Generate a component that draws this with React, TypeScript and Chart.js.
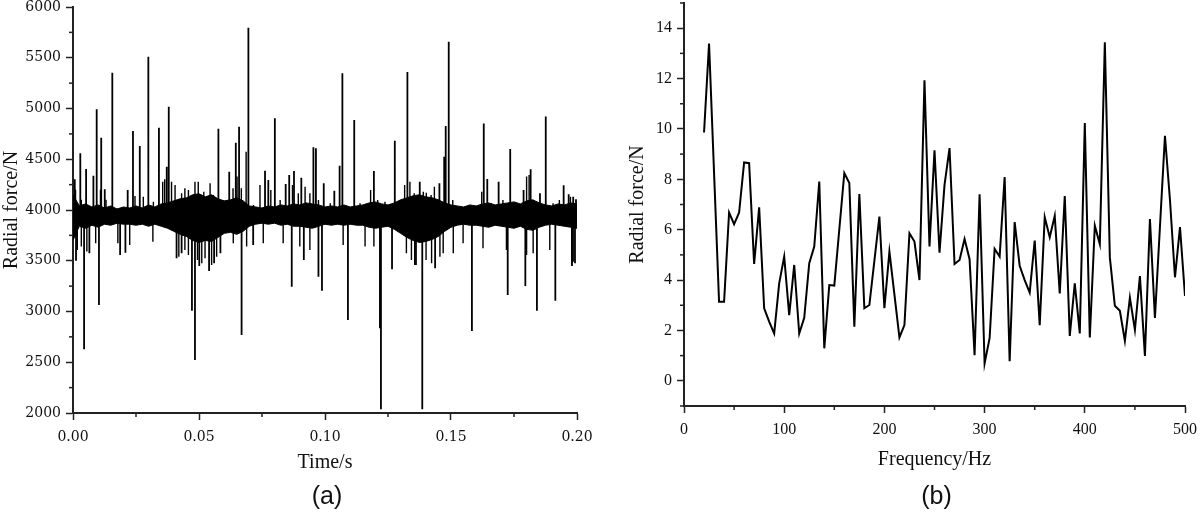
import React, { useEffect, useRef } from 'react';
import Chart from 'chart.js/auto';

// ---------------- Panel (a): time domain ----------------
const A_X_TICKS = [0, 0.05, 0.1, 0.15, 0.2];
const A_X_MINOR = [0.025, 0.075, 0.125, 0.175];
const A_Y_TICKS = [2000, 2500, 3000, 3500, 4000, 4500, 5000, 5500, 6000];
const A_Y_MINOR = [2250, 2750, 3250, 3750, 4250, 4750, 5250, 5750];

// envelope of the dense noise band (solid core)
const A_BAND_T = [0,0.0025,0.005,0.0075,0.01,0.0125,0.015,0.0175,0.02,0.0225,0.025,0.0275,0.03,0.0325,0.035,0.0375,0.04,0.0425,0.045,0.0475,0.05,0.0525,0.055,0.0575,0.06,0.0625,0.065,0.0675,0.07,0.0725,0.075,0.0775,0.08,0.0825,0.085,0.0875,0.09,0.0925,0.095,0.0975,0.1,0.1025,0.105,0.1075,0.11,0.1125,0.115,0.1175,0.12,0.1225,0.125,0.1275,0.13,0.1325,0.135,0.1375,0.14,0.1425,0.145,0.1475,0.15,0.1525,0.155,0.1575,0.16,0.1625,0.165,0.1675,0.17,0.1725,0.175,0.1775,0.18,0.1825,0.185,0.1875,0.19,0.1925,0.195,0.1975,0.2];
const A_BAND_HI = [4150,4040,4060,4030,4050,4020,4040,4010,4030,4020,
  4040,4020,4050,4030,4060,4070,4090,4110,4120,4150,
  4160,4130,4150,4110,4090,4100,4120,4090,4040,4030,
  4020,4040,4030,4050,4040,4060,4050,4070,4060,4050,
  4030,4040,4030,4050,4030,4040,4050,4070,4080,4060,
  4050,4070,4100,4120,4140,4150,4130,4120,4100,4070,
  4050,4040,4030,4050,4040,4060,4070,4050,4060,4070,
  4080,4060,4090,4100,4070,4050,4040,4060,4050,4070,
  4060];
const A_BAND_LO = [3700,3840,3820,3850,3830,3860,3850,3870,3860,3860,
  3850,3860,3840,3860,3840,3820,3790,3760,3740,3700,
  3680,3700,3690,3730,3770,3780,3760,3790,3840,3860,
  3870,3860,3870,3850,3860,3840,3840,3830,3820,3840,
  3860,3850,3860,3850,3860,3850,3850,3830,3820,3830,
  3840,3810,3770,3730,3700,3680,3690,3710,3740,3790,
  3830,3850,3860,3850,3850,3840,3830,3850,3840,3830,
  3820,3840,3810,3800,3830,3850,3860,3850,3840,3830,
  3820];

const A_BASE = 3950;
// large upward spikes
const A_UP_T = [0.0007,0.0029,0.0052,0.0081,0.0094,0.0112,0.0126,0.0156,0.0217,0.0238,0.0265,0.0299,0.0341,0.0372,0.0380,0.0577,0.0620,0.0646,0.0659,0.0696,0.0762,0.0775,0.0801,0.0844,0.0858,0.0877,0.0906,0.0954,0.0964,0.0995,0.1037,0.1058,0.1069,0.1116,0.1194,0.1277,0.1327,0.1376,0.1454,0.1473,0.1479,0.1491,0.1630,0.1644,0.1689,0.1735,0.1788,0.1816,0.1853,0.1876,0.1947,0.1967,0.1985,0.1996];
const A_UP_V = [4302,4559,4404,4338,4992,4712,4204,5353,4197,4778,4631,5510,4811,4427,5018,4801,4378,4663,4821,5796,4387,4296,4903,4256,4345,4384,4318,4618,4608,4263,4190,4436,5347,4887,4384,4683,5360,4279,4263,4525,4828,5658,4851,4306,4279,4601,4197,4401,4165,4920,4243,4155,4131,4105];
// large downward spikes
const A_DOWN_T = [0.0012,0.0044,0.0065,0.0103,0.0187,0.0208,0.0411,0.0431,0.0472,0.0484,0.0501,0.0540,0.0560,0.0585,0.0669,0.0715,0.0868,0.0916,0.0974,0.0988,0.1091,0.1218,0.1222,0.1266,0.1361,0.1386,0.1437,0.1583,0.1725,0.1795,0.1841,0.1914,0.1980,0.1992];
const A_DOWN_V = [3501,2628,3573,3064,3557,3580,3524,3573,3008,2522,3448,3399,3475,3573,2769,3655,3245,3507,3343,3205,2916,2835,2036,3416,3458,2036,3426,2808,3163,3251,3008,3106,3448,3475];
// small "grass" excursions on the band edges
const A_GRASS_UP_T = [0.0010,0.0033,0.0050,0.0109,0.0131,0.0180,0.0246,0.0279,0.0319,0.0356,0.0364,0.0391,0.0405,0.0431,0.0444,0.0458,0.0484,0.0497,0.0519,0.0544,0.0557,0.0593,0.0608,0.0635,0.0651,0.0668,0.0687,0.0716,0.0742,0.0785,0.0822,0.0871,0.0894,0.0921,0.0940,0.0974,0.1021,0.1077,0.1139,0.1181,0.1209,0.1238,0.1302,0.1316,0.1337,0.1354,0.1390,0.1402,0.1421,0.1434,0.1507,0.1545,0.1578,0.1622,0.1660,0.1706,0.1750,0.1800,0.1810,0.1825,0.1905,0.1930,0.1974];
const A_GRASS_UP_V = [4200,4100,4030,4200,4100,4020,4138,4131,4082,4279,4302,4279,4247,4165,4214,4197,4279,4279,4181,4263,4148,4099,4066,4214,4329,4214,4575,4050,4247,4197,4099,4247,4165,4230,4165,4099,4066,4034,4066,4197,4099,4082,4099,4247,4279,4165,4181,4170,4148,4230,4099,4000,4034,4181,4066,4099,4066,4329,4345,4099,4066,4099,4131];
const A_GRASS_DOWN_T = [0.0017,0.0033,0.0055,0.0090,0.0178,0.0225,0.0317,0.0420,0.0444,0.0458,0.0494,0.0511,0.0524,0.0550,0.0570,0.0636,0.0689,0.0755,0.0834,0.0900,0.0940,0.1072,0.1159,0.1194,0.1323,0.1343,0.1356,0.1401,0.1423,0.1456,0.1469,0.1509,0.1548,0.1627,0.1720,0.1800,0.1826,0.1892,0.1979,0.1985];
const A_GRASS_DOWN_V = [3606,3640,3590,3672,3672,3655,3688,3540,3606,3557,3507,3475,3524,3458,3540,3672,3640,3672,3672,3640,3606,3655,3640,3640,3573,3507,3458,3507,3475,3540,3573,3573,3672,3622,3606,3557,3573,3606,3458,3491];

// ---------------- Panel (b): spectrum ----------------
const B_FREQ = [20,25,35,40,45,50,55,60,65,70,75,80,85,90,95,100,105,110,115,120,125,130,135,140,145,150,160,165,170,175,180,185,195,200,205,215,220,225,230,235,240,245,250,255,260,265,270,275,280,285,290,295,300,305,310,315,320,325,330,335,340,345,350,355,360,365,370,375,380,385,390,395,400,405,410,415,420,425,430,435,440,445,450,455,460,465,470,480,485,490,495,500];
const B_FORCE = [9.86,13.39,3.14,3.14,6.68,6.22,6.68,8.67,8.64,4.64,6.89,2.88,2.35,1.88,3.87,4.93,2.61,4.60,1.88,2.50,4.67,5.33,7.91,1.29,3.80,3.78,8.25,7.85,2.15,7.42,2.88,3.01,6.52,2.88,5.13,1.72,2.21,5.86,5.53,4.00,11.93,5.33,9.15,5.09,7.78,9.24,4.64,4.80,5.63,4.83,1.02,7.41,0.69,1.69,5.24,4.93,8.09,0.78,6.30,4.57,4.00,3.50,5.57,2.21,6.50,5.70,6.55,3.47,7.34,1.78,3.87,1.88,10.23,1.72,6.16,5.43,13.44,4.90,2.98,2.78,1.59,3.30,2.02,4.16,0.99,6.42,2.50,9.73,7.18,4.11,6.10,3.37];
const B_X_TICKS = [0, 100, 200, 300, 400, 500];
const B_X_MINOR = [50, 150, 250, 350, 450];
const B_Y_TICKS = [0, 2, 4, 6, 8, 10, 12, 14];
const B_Y_MINOR = [-1, 1, 3, 5, 7, 9, 11, 13, 15];

const AXIS_COLOR = '#222';
const SERIF = '"Liberation Serif", "Times New Roman", serif';

function minorTicksPlugin(xMinor: number[], yMinor: number[], len: number) {
  return {
    id: 'minorTicks',
    afterDraw(chart: any) {
      const ctx = chart.ctx;
      const xs = chart.scales.x;
      const ys = chart.scales.y;
      ctx.save();
      ctx.strokeStyle = AXIS_COLOR;
      ctx.lineWidth = 1.5;
      for (const v of xMinor) {
        const p = xs.getPixelForValue(v);
        ctx.beginPath();
        ctx.moveTo(p, xs.top);
        ctx.lineTo(p, xs.top + len);
        ctx.stroke();
      }
      for (const v of yMinor) {
        const p = ys.getPixelForValue(v);
        ctx.beginPath();
        ctx.moveTo(ys.right, p);
        ctx.lineTo(ys.right - len, p);
        ctx.stroke();
      }
      ctx.restore();
    },
  };
}

function panelLabelPlugin(text: string, y: number) {
  return {
    id: 'panelLabel',
    afterDraw(chart: any) {
      const { ctx, chartArea } = chart;
      ctx.save();
      ctx.font = '25px "Liberation Sans", Arial, sans-serif';
      ctx.fillStyle = '#111';
      ctx.textAlign = 'center';
      ctx.textBaseline = 'middle';
      ctx.fillText(text, (chartArea.left + chartArea.right) / 2 + 2, y);
      ctx.restore();
    },
  };
}

function spikeSegments(ts: number[], vs: number[]) {
  const out: any[] = [];
  ts.forEach((t, i) => {
    out.push({ x: t, y: A_BASE }, { x: t, y: vs[i] }, { x: t, y: null });
  });
  return out;
}

function buildA(): any {
  const hi = A_BAND_T.map((t, i) => ({ x: t, y: A_BAND_HI[i] }));
  const lo = A_BAND_T.map((t, i) => ({ x: t, y: A_BAND_LO[i] }));
  const spikes = [...spikeSegments(A_UP_T, A_UP_V), ...spikeSegments(A_DOWN_T, A_DOWN_V)];
  const grass = [...spikeSegments(A_GRASS_UP_T, A_GRASS_UP_V), ...spikeSegments(A_GRASS_DOWN_T, A_GRASS_DOWN_V)];
  return {
    type: 'line',
    data: {
      datasets: [
        { data: spikes, borderColor: '#000', borderWidth: 1.8, pointRadius: 0, fill: false, spanGaps: false, tension: 0 },
        { data: grass, borderColor: '#000', borderWidth: 1.4, pointRadius: 0, fill: false, spanGaps: false, tension: 0 },
        { data: hi, borderColor: '#000', borderWidth: 1, pointRadius: 0, fill: false, tension: 0 },
        { data: lo, borderColor: '#000', borderWidth: 1, pointRadius: 0, fill: '-1', backgroundColor: '#000', tension: 0 },
      ],
    },
    options: {
      animation: false,
      responsive: false,
      devicePixelRatio: 1,
      events: [],
      layout: { padding: { left: 0, right: 23, top: 7, bottom: 0 } },
      plugins: { legend: { display: false }, tooltip: { enabled: false }, title: { display: false } },
      scales: {
        x: {
          type: 'linear', min: 0, max: 0.2,
          afterBuildTicks: (s: any) => { s.ticks = A_X_TICKS.map((v) => ({ value: v })); },
          afterFit: (s: any) => { s.height = 99; s.paddingLeft = 0; s.paddingRight = 0; },
          ticks: {
            autoSkip: false, maxRotation: 0, padding: 9, color: '#111',
            font: { family: '"DejaVu Serif", serif', size: 14 },
            callback: (v: any) => Number(v).toFixed(2),
          },
          grid: { drawOnChartArea: false, drawTicks: true, tickLength: 7, tickColor: AXIS_COLOR, tickWidth: 1.5 },
          border: { display: true, color: AXIS_COLOR, width: 2 },
          title: { display: true, text: 'Time/s', color: '#111', font: { family: SERIF, size: 20, lineHeight: 1.2 }, padding: { top: 0, bottom: 37 } },
        },
        y: {
          type: 'linear', min: 2000, max: 6000,
          afterBuildTicks: (s: any) => { s.ticks = A_Y_TICKS.map((v) => ({ value: v })); },
          afterFit: (s: any) => { s.width = 73; s.paddingTop = 0; s.paddingBottom = 0; },
          ticks: {
            autoSkip: false, padding: 5, color: '#111',
            font: { family: '"DejaVu Serif", serif', size: 14 },
            callback: (v: any) => String(v),
          },
          grid: { drawOnChartArea: false, drawTicks: true, tickLength: 7, tickColor: AXIS_COLOR, tickWidth: 1.5 },
          border: { display: true, color: AXIS_COLOR, width: 2 },
          title: { display: true, text: 'Radial force/N', color: '#111', font: { family: SERIF, size: 20, lineHeight: 1 }, padding: { top: 2, bottom: 0 } },
        },
      },
    },
    plugins: [minorTicksPlugin(A_X_MINOR, A_Y_MINOR, 4), panelLabelPlugin('(a)', 497)],
  };
}

function buildB(): any {
  const pts = B_FREQ.map((f, i) => ({ x: f, y: B_FORCE[i] }));
  return {
    type: 'line',
    data: {
      datasets: [
        { data: pts, borderColor: '#000', borderWidth: 2, pointRadius: 0, fill: false, tension: 0 },
      ],
    },
    options: {
      animation: false,
      responsive: false,
      devicePixelRatio: 1,
      events: [],
      layout: { padding: { left: 0, right: 15, top: 3, bottom: 0 } },
      plugins: { legend: { display: false }, tooltip: { enabled: false }, title: { display: false } },
      scales: {
        x: {
          type: 'linear', min: 0, max: 500,
          afterBuildTicks: (s: any) => { s.ticks = B_X_TICKS.map((v) => ({ value: v })); },
          afterFit: (s: any) => { s.height = 106; s.paddingLeft = 0; s.paddingRight = 0; },
          ticks: {
            autoSkip: false, maxRotation: 0, padding: 7, color: '#111',
            font: { family: SERIF, size: 16 },
            callback: (v: any) => String(v),
          },
          grid: { drawOnChartArea: false, drawTicks: true, tickLength: 7, tickColor: AXIS_COLOR, tickWidth: 1.5 },
          border: { display: true, color: AXIS_COLOR, width: 2 },
          title: { display: true, text: 'Frequency/Hz', color: '#111', font: { family: SERIF, size: 20, lineHeight: 1.2 }, padding: { top: 0, bottom: 40 } },
        },
        y: {
          type: 'linear', min: -1, max: 15,
          afterBuildTicks: (s: any) => { s.ticks = B_Y_TICKS.map((v) => ({ value: v })); },
          afterFit: (s: any) => { s.width = 84; s.paddingTop = 0; s.paddingBottom = 0; },
          ticks: {
            autoSkip: false, padding: 5, color: '#111',
            font: { family: SERIF, size: 16 },
            callback: (v: any) => String(v),
          },
          grid: { drawOnChartArea: false, drawTicks: true, tickLength: 7, tickColor: AXIS_COLOR, tickWidth: 1.5 },
          border: { display: true, color: AXIS_COLOR, width: 2 },
          title: { display: true, text: 'Radial force/N', color: '#111', font: { family: SERIF, size: 20, lineHeight: 1 }, padding: { top: 28, bottom: 0 } },
        },
      },
    },
    plugins: [minorTicksPlugin(B_X_MINOR, B_Y_MINOR, 4), panelLabelPlugin('(b)', 497)],
  };
}

export default function App() {
  const refA = useRef<HTMLCanvasElement | null>(null);
  const refB = useRef<HTMLCanvasElement | null>(null);
  useEffect(() => {
    const a = new Chart(refA.current as HTMLCanvasElement, buildA());
    const b = new Chart(refB.current as HTMLCanvasElement, buildB());
    return () => { a.destroy(); b.destroy(); };
  }, []);
  return (
    <div style={{ position: 'absolute', left: 0, top: 0, width: 1200, height: 512, background: '#fff' }}>
      <canvas ref={refA} width={600} height={512} style={{ position: 'absolute', left: 0, top: 0 }} />
      <canvas ref={refB} width={600} height={512} style={{ position: 'absolute', left: 600, top: 0 }} />
    </div>
  );
}
